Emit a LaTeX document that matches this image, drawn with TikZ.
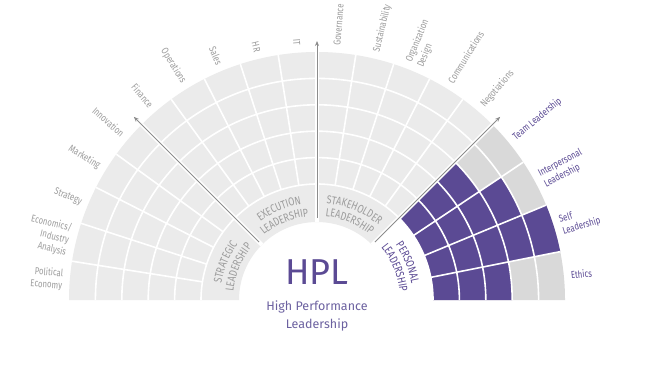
\documentclass[tikz,border=0pt]{standalone}
\usepackage{fontspec}
\setmainfont{Fira Sans}
\newfontfamily\condfont[FakeStretch=0.78]{Fira Sans}
\usetikzlibrary{decorations.text, arrows.meta}
\definecolor{cellgrey}{HTML}{EBEBEB}
\definecolor{darkcell}{HTML}{D9D9D9}
\definecolor{hplpurple}{HTML}{5B4A94}
\definecolor{hpltext}{HTML}{6C61A0}
\definecolor{labelgrey}{HTML}{9C9C9C}
\definecolor{axisgrey}{HTML}{8C8C8C}
\newcommand{\bandfont}{\condfont\fontsize{11.5}{11.5}\selectfont\color{labelgrey}}
\newcommand{\bandfontp}{\condfont\fontsize{11.5}{11.5}\selectfont\color{hplpurple}}

\begin{document}
\begin{tikzpicture}[x=1pt, y=1pt,
    every node/.style={font=\condfont\fontsize{10}{12.5}\selectfont, text=labelgrey, inner sep=0pt},
    rlabel/.style={anchor=west, align=left},
    llabel/.style={anchor=east, align=right},
    plabel/.style={anchor=west, align=left, text=hplpurple},
    sep/.style={white, line width=1.6pt},
    axisarrow/.style={axisgrey, line width=0.8pt, -{Stealth[length=5pt, width=4pt]}}]
  \useasboundingbox (0,0) rectangle (660,375);
  \fill[white] (0,0) rectangle (660,375);

  \begin{scope}[shift={(317,75)}]
    % grey fan and personal grid
    \fill[cellgrey] (45:78) -- (45:248) arc[start angle=45, end angle=180, radius=248] -- (180:78) arc[start angle=180, end angle=45, radius=78] -- cycle;
    \fill[darkcell] (0:116) -- (0:248) arc[start angle=0, end angle=45, radius=248] -- (45:116) arc[start angle=45, end angle=0, radius=116] -- cycle;
    \foreach \sct/\npur in {0/3, 1/5, 2/4, 3/3} {
      \pgfmathsetmacro{\aa}{11.25*\sct}
      \pgfmathsetmacro{\ab}{\aa+11.25}
      \pgfmathsetmacro{\rb}{116+26.4*\npur}
      \fill[hplpurple] (\aa:116) -- (\aa:\rb) arc[start angle=\aa, end angle=\ab, radius=\rb] -- (\ab:116) arc[start angle=\ab, end angle=\aa, radius=116] -- cycle;
    }

    % white grid lines
    \foreach \rad in {116, 142.4, 168.8, 195.2, 221.6}
      \draw[sep] (0:\rad) arc[start angle=0, end angle=180, radius=\rad];
    \foreach \ang in {11.25, 22.5, 33.75, 54, 63, 72, 81, 99, 108, 117, 126, 144, 153, 162, 171}
      \draw[sep] (\ang:116) -- (\ang:248);
    \foreach \ang in {45, 90, 135}
      \draw[white, line width=4pt] (\ang:78) -- (\ang:248);

    % axes
    \foreach \ang in {45, 90, 135} {
      \coordinate (in\ang) at (\ang:82);
      \coordinate (out\ang) at (\ang:259);
      \draw[axisarrow] (in\ang) -- (out\ang);
    }

    % quadrant names
    \path[decorate, decoration={text along path, text align=center, text={|\bandfont|STRATEGIC}}] (180:97) arc[start angle=180, end angle=135, radius=97];
    \path[decorate, decoration={text along path, text align=center, text={|\bandfont|LEADERSHIP}}] (180:84) arc[start angle=180, end angle=135, radius=84];
    \path[decorate, decoration={text along path, text align=center, text={|\bandfont|EXECUTION}}] (135:97) arc[start angle=135, end angle=90, radius=97];
    \path[decorate, decoration={text along path, text align=center, text={|\bandfont|LEADERSHIP}}] (135:84) arc[start angle=135, end angle=90, radius=84];
    \path[decorate, decoration={text along path, text align=center, text={|\bandfont|STAKEHOLDER}}] (90:97) arc[start angle=90, end angle=45, radius=97];
    \path[decorate, decoration={text along path, text align=center, text={|\bandfont|LEADERSHIP}}] (90:84) arc[start angle=90, end angle=45, radius=84];
    \path[decorate, decoration={text along path, text align=center, text={|\bandfontp|PERSONAL}}] (45:96) arc[start angle=45, end angle=0, radius=96];
    \path[decorate, decoration={text along path, text align=center, text={|\bandfontp|LEADERSHIP}}] (45:83) arc[start angle=45, end angle=0, radius=83];

    % stakeholder labels
    \node[rlabel, rotate=85.5] (gov) at (85.5:255) {Governance};
    \node[rlabel, rotate=76.5] (sust) at (76.5:255) {Sustainability};
    \node[rlabel, rotate=67.5] (orgdes) at (67.5:255) {Organization\\Design};
    \node[rlabel, rotate=58.5] (comm) at (58.5:255) {Communications};
    \node[rlabel, rotate=49.5] (nego) at (49.5:255) {Negotiations};

    % execution labels
    \node[llabel, rotate=-85.5] (it) at (94.5:255) {IT};
    \node[llabel, rotate=-76.5] (hr) at (103.5:255) {HR};
    \node[llabel, rotate=-67.5] (sales) at (112.5:255) {Sales};
    \node[llabel, rotate=-58.5] (oper) at (121.5:255) {Operations};
    \node[llabel, rotate=-49.5] (fin) at (130.5:255) {Finance};

    % strategic labels
    \node[llabel, rotate=-40.5] (innov) at (139.5:255) {Innovation};
    \node[llabel, rotate=-31.5] (mark) at (148.5:255) {Marketing};
    \node[llabel, rotate=-22.5] (strat) at (157.5:255) {Strategy};
    \node[llabel, rotate=-13.5] (econ) at (166.5:255) {Economics/\\Industry\\Analysis};
    \node[llabel, rotate=-4.5] (polit) at (175.5:255) {Political\\Economy};

    % personal labels
    \node[plabel, rotate=39.375] (team) at (39.375:255) {Team Leadership};
    \node[plabel, rotate=28.125] (inter) at (28.125:255) {Interpersonal\\Leadership};
    \node[plabel, rotate=16.875] (self) at (16.875:255) {Self\\Leadership};
    \node[plabel, rotate=5.625] (ethics) at (5.625:255) {Ethics};

    % centre
    \node[font=\fontsize{36}{36}\selectfont, text=hplpurple] (hpl) at (0,28) {HPL};
    \node[font=\fontsize{12.5}{18}\selectfont, text=hpltext, align=center] (hplname) at (0,-16) {High Performance\\Leadership};
  \end{scope}
\end{tikzpicture}
\end{document}
